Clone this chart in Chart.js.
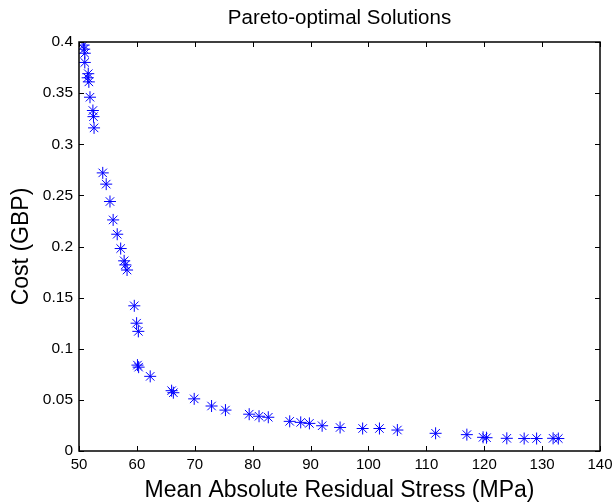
<!DOCTYPE html>
<html>
<head>
<meta charset="utf-8">
<script src="https://cdn.jsdelivr.net/npm/chart.js@4"></script>
<style>
    html, body { margin: 0; padding: 0; background: #fff; }
    #wrap { width: 614px; height: 504px; }
</style>
</head>
<body>
<div id="wrap"><canvas id="paretoChart" width="614" height="504"></canvas></div>
<script>
// mean absolute residual stress (MPa) and cost (GBP) of each solution
let stressValues = [
    50.8, 50.9, 51.0, 51.0, 51.6, 51.5, 51.7, 51.9, 52.4, 52.5, 52.6,
    54.1, 54.7, 55.35, 55.9, 56.6, 57.2, 57.8, 58.0, 58.3,
    59.55, 59.95, 60.25, 60.1, 60.3, 62.3,
    66.0, 66.3, 69.9, 72.9, 75.3, 79.4, 81.1, 82.7,
    86.4, 88.3, 89.8, 92.0, 95.1, 99.0, 101.9, 105.0,
    111.6, 117.0, 119.8, 120.4, 123.9, 126.9, 129.05, 131.9, 132.8
];
let costValues = [
    0.397, 0.393, 0.389, 0.380, 0.369, 0.365, 0.361, 0.346, 0.333, 0.327, 0.316,
    0.272, 0.261, 0.244, 0.226, 0.212, 0.198, 0.186, 0.182, 0.177,
    0.142, 0.125, 0.117, 0.084, 0.082, 0.073,
    0.059, 0.057, 0.051, 0.044, 0.040, 0.036, 0.034, 0.033,
    0.029, 0.028, 0.027, 0.0247, 0.023, 0.022, 0.022, 0.0205,
    0.0173, 0.016, 0.0134, 0.013, 0.0124, 0.0122, 0.0122, 0.0124, 0.0122
];
let xTicks = [50, 60, 70, 80, 90, 100, 110, 120, 130, 140];
let yTicks = [0, 0.05, 0.1, 0.15, 0.2, 0.25, 0.3, 0.35, 0.4];

const FONT = "'Liberation Sans', Arial, sans-serif";

// box around the plot with short ticks pointing inwards on all four sides
const boxTicks = {
    id: "boxTicks",
    afterDatasetsDraw(chart) {
        let ctx = chart.ctx;
        let a = chart.chartArea;
        let xs = chart.scales.x;
        let ys = chart.scales.y;
        let len = 5;
        ctx.save();
        ctx.strokeStyle = "#000";
        ctx.lineWidth = 1;
        ctx.beginPath();
        xTicks.forEach(v => {
            let px = Math.round(xs.getPixelForValue(v)) + 0.5;
            ctx.moveTo(px, a.bottom); ctx.lineTo(px, a.bottom - len);
            ctx.moveTo(px, a.top); ctx.lineTo(px, a.top + len);
        });
        yTicks.forEach(v => {
            let py = Math.round(ys.getPixelForValue(v)) + 0.5;
            ctx.moveTo(a.left, py); ctx.lineTo(a.left + len, py);
            ctx.moveTo(a.right, py); ctx.lineTo(a.right - len, py);
        });
        ctx.stroke();
        ctx.lineWidth = 1.5;
        ctx.strokeRect(a.left, a.top, a.right - a.left, a.bottom - a.top);
        ctx.restore();
    }
};

let points = stressValues.map((x, i) => ({ x: x, y: costValues[i] }));

new Chart(document.getElementById("paretoChart").getContext("2d"), {
    type: "scatter",
    data: {
        datasets: [{
            data: points,
            pointStyle: "star",
            pointRadius: 6,
            pointHoverRadius: 6,
            borderColor: "#0000ff",
            backgroundColor: "#0000ff",
            pointBorderWidth: 1
        }]
    },
    options: {
        responsive: false,
        animation: false,
        layout: { padding: { left: 0, right: 14, top: 0, bottom: 0 } },
        plugins: {
            legend: { display: false },
            tooltip: { enabled: false },
            title: {
                display: true,
                fullSize: false,
                text: "Pareto-optimal Solutions",
                color: "#000",
                font: { family: FONT, size: 20.5, weight: "normal" },
                padding: { top: 6, bottom: 11.4 }
            }
        },
        scales: {
            x: {
                type: "linear",
                min: 50,
                max: 140,
                afterBuildTicks: s => { s.ticks = xTicks.map(v => ({ value: v })); },
                afterFit: s => {
                    s.height = 53;
                    s.paddingLeft = 0;
                    s.paddingRight = 0;
                },
                grid: { display: false, drawTicks: false },
                border: { display: false },
                ticks: {
                    color: "#000",
                    padding: 5,
                    maxRotation: 0,
                    font: { family: FONT, size: 15 },
                    callback: v => String(v)
                },
                title: {
                    display: true,
                    text: "Mean Absolute Residual Stress (MPa)",
                    color: "#000",
                    font: { family: FONT, size: 23 },
                    padding: { top: 0, bottom: 0 }
                }
            },
            y: {
                type: "linear",
                min: 0,
                max: 0.4,
                afterBuildTicks: s => { s.ticks = yTicks.map(v => ({ value: v })); },
                afterFit: s => { s.width = 79; },
                grid: { display: false, drawTicks: false },
                border: { display: false },
                ticks: {
                    color: "#000",
                    padding: 6,
                    font: { family: FONT, size: 15.5 },
                    callback: v => String(Math.round(v * 100) / 100)
                },
                title: {
                    display: true,
                    text: "Cost (GBP)",
                    color: "#000",
                    font: { family: FONT, size: 23 },
                    padding: { top: 8, bottom: 0 }
                }
            }
        }
    },
    plugins: [boxTicks]
});
</script>
</body>
</html>
